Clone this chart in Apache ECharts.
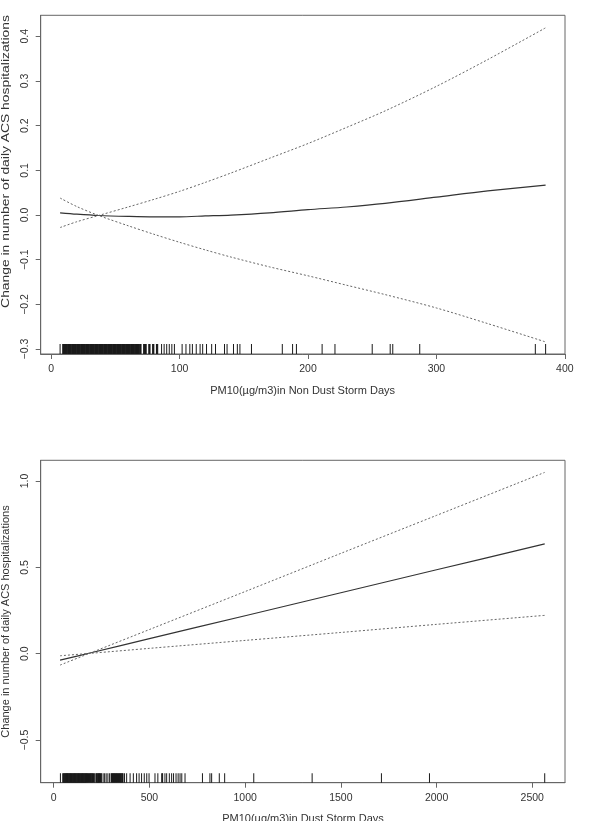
<!DOCTYPE html>
<html>
<head>
<meta charset="utf-8">
<script src="https://cdn.jsdelivr.net/npm/echarts@6/dist/echarts.min.js"></script>
<style>
html, body { margin: 0; padding: 0; background: #fff; }
#chart { width: 603px; height: 821px; }
</style>
</head>
<body>
<div id="chart"></div>
<script>
// top panel - non dust storm days
var topX = [7, 20, 37, 60, 80, 100, 120, 140, 170, 200, 230, 260, 300, 340, 385];
var topFit = [0.005, 0.002, -0.001, -0.003, -0.004, -0.004, -0.002, 0.000, 0.005, 0.012, 0.018, 0.026, 0.040, 0.054, 0.067];
var topUpper = [-0.028, -0.015, -0.001, 0.018, 0.035, 0.053, 0.073, 0.094, 0.127, 0.160, 0.196, 0.233, 0.288, 0.348, 0.419];
var topLower = [0.038, 0.019, -0.001, -0.024, -0.043, -0.061, -0.078, -0.094, -0.116, -0.136, -0.157, -0.178, -0.208, -0.243, -0.284];
var topRug = [7, 9, 10, 11, 12, 13, 14, 15, 16, 17, 18, 19, 20, 21, 22, 23, 24, 25, 26, 27, 28, 29, 30,
  31, 32, 33, 34, 35, 36, 37, 38, 39, 40, 41, 42, 43, 44, 45, 46, 47, 48, 49, 50, 51, 52, 53, 54, 55,
  56, 57, 58, 59, 60, 61, 62, 63, 64, 65, 66, 67, 68, 69, 70, 72, 73, 74, 76, 77, 79, 80, 82, 83,
  86, 88, 90, 92, 94, 96, 102, 105, 108, 110, 113, 116, 118, 121, 125, 128, 135, 137, 142, 145, 147,
  156, 180, 188, 191, 211, 221, 250, 264, 266, 287, 377, 385];
var topXTicks = [0, 100, 200, 300, 400];
var topYTicks = [-0.3, -0.2, -0.1, 0, 0.1, 0.2, 0.3, 0.4];

// bottom panel - dust storm days
var botX = [33, 200, 500, 1000, 1500, 2000, 2565];
var botFit = [-0.037, 0.007, 0.087, 0.220, 0.353, 0.486, 0.636];
var botUpper = [-0.066, 0.008, 0.140, 0.360, 0.581, 0.801, 1.050];
var botLower = [-0.012, 0.003, 0.031, 0.077, 0.123, 0.170, 0.222];
var botRug = [35, 47, 53, 57, 60, 63, 66, 69, 72, 75, 78, 81, 84, 87, 90, 93, 96, 99, 102, 105, 108,
  111, 114, 117, 120, 123, 126, 129, 132, 135, 138, 141, 144, 147, 150, 153, 156, 159, 162, 165, 168,
  171, 175, 180, 186, 192, 199, 205, 212, 220, 226, 230, 234, 238, 242, 249, 258, 266, 274, 283, 292,
  300, 305, 310, 315, 320, 326, 331, 337, 343, 349, 355, 362, 370, 381, 399, 416, 433, 446, 459, 473,
  486, 498, 529, 544, 564, 569, 581, 590, 604, 616, 626, 639, 650, 660, 669, 686, 777, 816, 825, 865,
  893, 1045, 1350, 1712, 1963, 2565];
var botXTicks = [0, 500, 1000, 1500, 2000, 2500];
var botYTicks = [-0.5, 0, 0.5, 1.0];

var topYMin = -0.311, topYMax = 0.447;
var botYMin = -0.747, botYMax = 1.12;

var FONT = '"Liberation Sans", Arial, sans-serif';
var yTitle = 'Change in number of daily ACS hospitalizations';

function pairs(xs, ys) {
  return xs.map(function (x, i) { return [x, ys[i]]; });
}
function fmtY(v) {
  return (v < 0 ? '\u2212' : '') + Math.abs(v).toFixed(1);
}

function xAxisOf(grid, min, max, ticks) {
  return {
    type: 'value', gridIndex: grid, min: min, max: max,
    splitLine: { show: false },
    axisLine: { show: true, onZero: false, lineStyle: { color: '#666' } },
    axisTick: { show: true, length: 5, customValues: ticks, lineStyle: { color: '#666' } },
    axisLabel: { customValues: ticks, margin: 10, fontSize: 10.5, color: '#333', fontFamily: FONT,
      formatter: function (v) { return String(v); } }
  };
}
function yAxisOf(grid, min, max, ticks) {
  return {
    type: 'value', gridIndex: grid, min: min, max: max,
    splitLine: { show: false },
    axisLine: { show: true, onZero: false, lineStyle: { color: '#666' } },
    axisTick: { show: true, length: 5, customValues: ticks, lineStyle: { color: '#666' } },
    axisLabel: { customValues: ticks, rotate: 90, align: 'center', verticalAlign: 'middle',
      margin: 16, fontSize: 10.5, color: '#333', fontFamily: FONT, formatter: fmtY }
  };
}
function curve(idx, data, dashed) {
  return {
    type: 'line', xAxisIndex: idx, yAxisIndex: idx, data: data,
    showSymbol: false, smooth: 0.3, silent: true,
    lineStyle: dashed ? { color: '#666', width: 1, type: [2, 2] } : { color: '#333', width: 1.2 }
  };
}
// rug ticks: thin bars standing on the bottom of the plot;
// a tick that nearly touches the next one is widened to close the gap
function rug(idx, vals, yMin, h) {
  return {
    type: 'custom', xAxisIndex: idx, yAxisIndex: idx, silent: true,
    data: vals.map(function (v) { return [v, yMin]; }),
    renderItem: function (params, api) {
      var p = api.coord([api.value(0), api.value(1)]);
      var w = 1;
      var next = vals[params.dataIndex + 1];
      if (next !== undefined) {
        var q = api.coord([next, api.value(1)]);
        if (q[0] - p[0] < 1.4) w = q[0] - p[0] + 0.6;
      }
      return {
        type: 'rect',
        shape: { x: p[0] - 0.5, y: p[1] - h, width: w, height: h },
        style: { fill: '#1a1a1a' }
      };
    }
  };
}
function label(text, x, y, rot, sx) {
  return {
    type: 'text', x: x, y: y, rotation: rot, scaleX: sx, silent: true,
    style: { text: text, font: '11px ' + FONT, fill: '#333',
      align: 'center', verticalAlign: 'middle', textAlign: 'center', textVerticalAlign: 'middle' }
  };
}

var chart = echarts.init(document.getElementById('chart'), null, { renderer: 'canvas' });
chart.setOption({
  animation: false,
  backgroundColor: '#fff',
  grid: [
    { left: 40.7, top: 15.3, width: 524.3, height: 338.7, show: true, borderColor: '#666', borderWidth: 1 },
    { left: 40.7, top: 460.3, width: 524.3, height: 322.4, show: true, borderColor: '#666', borderWidth: 1 }
  ],
  xAxis: [xAxisOf(0, -8.1, 400.1, topXTicks), xAxisOf(1, -68, 2671, botXTicks)],
  yAxis: [yAxisOf(0, topYMin, topYMax, topYTicks), yAxisOf(1, botYMin, botYMax, botYTicks)],
  series: [
    rug(0, topRug, topYMin, 10),
    curve(0, pairs(topX, topFit), false),
    curve(0, pairs(topX, topUpper), true),
    curve(0, pairs(topX, topLower), true),
    rug(1, botRug, botYMin, 9.5),
    curve(1, pairs(botX, botFit), false),
    curve(1, pairs(botX, botUpper), true),
    curve(1, pairs(botX, botLower), true)
  ],
  graphic: [
    label(yTitle, 5.5, 161.5, Math.PI / 2, 1.26),
    label('PM10(\u00b5g/m3)in Non Dust Storm Days', 302.6, 391, 0, 1),
    label(yTitle, 5.5, 621.5, Math.PI / 2, 1),
    label('PM10(\u00b5g/m3)in Dust Storm Days', 303, 819, 0, 1)
  ]
});
</script>
</body>
</html>
